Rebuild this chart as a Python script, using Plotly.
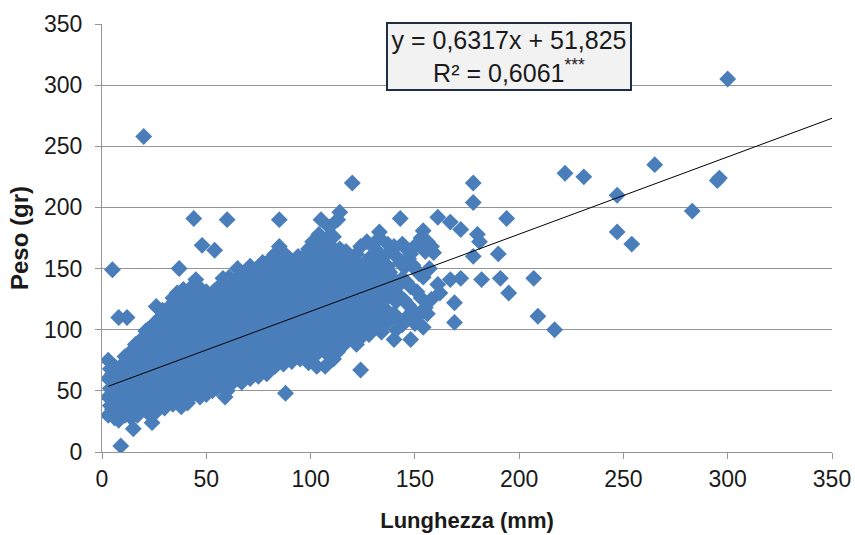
import plotly.graph_objects as go

# Lunghezza (mm) e peso (gr) dei singoli esemplari
lunghezza = [
    3, 4, 3, 4, 3, 4, 3,
    5, 6, 5, 6, 5, 5,
    6, 7, 6, 7, 6,
    8, 9, 8, 9, 8, 9, 8,
    9, 10, 9, 10, 9, 10,
    11, 12, 11, 12, 11, 12, 11,
    12, 13, 12, 13,
    14, 15, 14, 15, 14, 15, 14, 15,
    15, 16, 15, 16, 15, 16,
    17, 18, 17, 18, 17, 18, 17, 18,
    19, 20, 19, 20, 19, 20, 19, 20,
    20, 21, 21, 22, 21,
    22, 23, 22, 23, 22, 23, 22, 23, 22,
    24, 25, 24, 25, 24, 25, 24, 25, 24, 25,
    26, 27, 26, 27, 26, 27, 26, 27, 26, 26,
    28, 29, 28, 29, 28, 29, 28, 29, 28, 29,
    30, 31, 30, 31, 30, 31, 30, 31, 30, 31,
    32, 33, 32, 33, 32, 33, 32, 33, 32, 33,
    34, 35, 34, 35, 34, 35, 34, 35, 34, 35, 34,
    36, 37, 36, 37, 36, 37, 36, 37, 36, 37, 36,
    38, 39,
    39, 40, 39, 40, 39, 40, 39, 40, 39, 40, 37,
    41, 42, 41, 42, 41, 42, 41, 42, 41, 42, 41,
    43, 44, 43, 44, 43, 44, 43, 44, 43, 44, 43,
    45, 46, 45, 46, 45, 46, 45, 46, 45, 46, 45, 44,
    47, 48, 47, 48, 47, 48, 47, 48, 47, 48, 47,
    48,
    49, 50, 49, 50, 49, 50, 49, 50, 49, 50,
    50,
    51, 52, 51, 52, 51, 52, 51, 52, 51,
    53, 54, 53, 54, 53, 54, 53, 54, 53, 54,
    54,
    55, 56, 55, 56, 55, 56, 55, 56, 55, 56,
    57, 58, 57, 58, 57, 58, 57, 58, 57, 58,
    58,
    59, 60, 59, 60, 59, 60, 59, 60, 59, 60, 59,
    60,
    61, 62, 61, 62, 61, 62, 61, 62, 61, 62, 61,
    63, 64, 63, 64, 63, 64, 63, 64, 63, 64,
    65, 66, 65, 66, 65, 66, 65, 66, 65, 66, 65,
    67, 68, 67, 68, 67, 68, 67, 68, 67, 68, 67,
    69, 70, 69, 70, 69, 70, 69, 70, 69, 70, 69,
    71, 72, 71, 72, 71, 72, 71, 72, 71, 72, 71,
    73, 74, 73, 74, 73, 74, 73, 74, 73, 74,
    75, 76, 75, 76, 75, 76, 75, 76, 75, 76, 75,
    77, 78, 77, 78, 77, 78, 77, 78, 77, 78, 77,
    79, 80, 79, 80, 79, 80, 79, 80, 79, 80, 79,
    81, 82, 81, 82, 81, 82, 81, 82, 81, 82, 81,
    83, 84, 83, 84, 83, 84, 83, 84, 83, 84, 83,
    85, 86, 85, 86, 85, 86, 85, 86, 85, 86, 85, 85,
    87, 88, 87, 88, 87, 88, 87, 88, 87, 88, 87,
    88,
    89, 90, 89, 90, 89, 90, 89, 90, 89, 90,
    91, 92, 91, 92, 91, 92, 91, 92, 91, 92,
    93, 94, 93, 94, 93, 94, 93, 94, 93, 94,
    95, 96, 95, 96, 95, 96, 95, 96, 95, 96,
    97, 98, 97, 98, 97, 98, 97, 98, 97, 98,
    99, 100, 99, 100, 99, 100, 99, 100, 99, 100, 99,
    101, 102, 101, 102, 101, 102, 101, 102, 101, 102, 101,
    103, 104, 103, 104, 103, 104, 103, 104, 103, 104, 103, 104,
    105, 106, 105, 106, 105, 106, 105, 106, 105, 106, 105,
    107, 108, 107, 108, 107, 108, 107, 108, 107, 108, 107, 108,
    109, 110, 109, 110, 109, 110, 109, 110, 109, 110, 109,
    111, 112, 111, 112, 111, 112, 111, 112, 111, 112, 111,
    113, 114, 113, 114, 113, 114, 113, 114, 113, 114, 113,
    114,
    115, 116, 115, 116, 115, 116, 115, 116, 115,
    117, 118, 117, 118, 117, 118, 117, 118, 117,
    119, 120, 119, 120, 119, 120, 119, 120,
    120,
    122, 123, 122, 123, 122, 123, 122, 123, 122,
    124, 125, 124, 125, 124, 125, 124, 125, 124,
    126, 127, 126, 127, 126, 127, 126, 127,
    128, 129, 128, 129, 128, 129, 128, 129,
    130, 131, 130, 131, 130, 131, 130, 131,
    132, 133, 132, 133, 132, 133, 132, 133,
    134, 135, 134, 135, 134, 135, 134, 133,
    136, 137, 136, 137, 136, 137, 136, 137,
    138, 139, 138, 139,
    140, 141, 140, 141, 140, 141, 140,
    142, 143, 142, 143,
    143,
    144, 145, 144, 145, 144,
    146, 147, 146, 147, 146,
    148, 149, 148, 149, 148,
    150, 151, 150, 151,
    152, 153, 152, 153,
    154, 155, 154, 155, 154,
    156, 157, 156,
    158, 159, 158,
    161, 161,
    162,
    167, 167,
    169, 169,
    172, 172,
    178, 178, 178,
    180,
    181,
    182,
    190, 191,
    194,
    195,
    207,
    209,
    217,
    222,
    231,
    247, 247,
    254,
    265,
    283,
    295,
    296,
    300,
]

peso = [
    30, 38, 45, 52, 60, 68, 75,
    35, 42, 50, 57, 64, 149,
    28, 47, 55, 62, 70,
    26, 33, 40, 48, 58, 66, 110,
    5, 36, 44, 52, 60, 72,
    30, 38, 46, 55, 63, 70, 78,
    110, 42, 50, 58,
    28, 35, 45, 53, 61, 69, 76, 84,
    19, 40, 49, 57, 65, 88,
    30, 38, 47, 56, 64, 72, 80, 90,
    34, 43, 52, 60, 68, 77, 85, 94,
    258, 99, 45, 57, 73,
    32, 40, 49, 58, 66, 75, 83, 92, 100,
    24, 36, 45, 54, 63, 71, 80, 88, 97, 105,
    33, 42, 51, 60, 68, 77, 86, 95, 104, 119,
    38, 47, 56, 65, 74, 82, 91, 100, 110, 116,
    36, 44, 53, 62, 71, 80, 88, 97, 106, 114,
    41, 50, 59, 68, 77, 85, 94, 103, 112, 120,
    39, 47, 56, 65, 74, 83, 92, 101, 110, 118, 126,
    42, 52, 61, 70, 79, 88, 97, 106, 115, 124, 130,
    37, 133,
    44, 53, 62, 71, 80, 89, 98, 107, 116, 125, 150,
    40, 48, 57, 66, 75, 84, 93, 102, 111, 120, 128,
    46, 55, 64, 73, 82, 91, 100, 109, 118, 127, 135,
    48, 58, 67, 76, 85, 94, 103, 112, 121, 130, 141, 191,
    45, 53, 62, 71, 80, 89, 98, 107, 116, 125, 134,
    169,
    50, 59, 68, 77, 86, 95, 104, 113, 122, 131,
    47,
    55, 64, 73, 82, 91, 100, 109, 118, 127,
    50, 60, 69, 78, 87, 96, 105, 114, 123, 132,
    165,
    52, 62, 71, 80, 89, 98, 107, 116, 125, 135,
    56, 65, 74, 83, 92, 101, 110, 119, 128, 137,
    142,
    45, 50, 60, 69, 78, 87, 96, 105, 114, 123, 132,
    190,
    54, 63, 72, 81, 90, 99, 108, 117, 126, 135, 143,
    58, 67, 76, 85, 94, 103, 112, 121, 130, 139,
    60, 70, 79, 88, 97, 106, 115, 124, 133, 142, 150,
    57, 64, 73, 82, 91, 100, 109, 118, 127, 136, 146,
    62, 68, 77, 86, 95, 104, 113, 122, 131, 140, 148,
    60, 72, 81, 90, 99, 108, 117, 126, 135, 144, 152,
    65, 75, 84, 93, 102, 111, 120, 129, 138, 147,
    62, 70, 79, 88, 97, 106, 115, 124, 133, 142, 151,
    67, 76, 85, 94, 103, 112, 121, 130, 139, 148, 155,
    64, 73, 82, 91, 100, 109, 118, 127, 136, 145, 154,
    68, 78, 87, 96, 105, 114, 123, 132, 141, 150, 158,
    70, 80, 89, 98, 107, 116, 125, 134, 143, 152, 162,
    75, 84, 93, 102, 111, 120, 129, 138, 147, 156, 168, 190,
    72, 81, 90, 99, 108, 117, 126, 135, 144, 153, 163,
    48,
    77, 86, 95, 104, 113, 122, 131, 140, 149, 158,
    74, 83, 92, 101, 110, 119, 128, 137, 146, 155,
    79, 88, 97, 106, 115, 124, 133, 142, 151, 160,
    76, 85, 94, 103, 112, 121, 130, 139, 148, 157,
    80, 90, 99, 108, 117, 126, 135, 144, 153, 162,
    73, 84, 93, 102, 111, 120, 129, 138, 147, 156, 166,
    78, 88, 97, 106, 115, 124, 133, 142, 151, 160, 172,
    70, 82, 91, 100, 109, 118, 127, 136, 145, 154, 165, 178,
    86, 95, 104, 113, 122, 131, 140, 149, 158, 170, 190,
    70, 80, 90, 99, 108, 117, 126, 135, 144, 153, 162, 175,
    84, 93, 102, 111, 120, 129, 138, 147, 156, 168, 184,
    76, 88, 97, 106, 115, 124, 133, 142, 151, 160, 176,
    82, 92, 101, 110, 119, 128, 137, 146, 155, 166, 190,
    196,
    86, 96, 105, 114, 123, 132, 141, 150, 160,
    90, 100, 109, 118, 127, 136, 145, 154, 164,
    94, 104, 113, 122, 131, 140, 149, 158,
    220,
    88, 98, 108, 117, 126, 135, 144, 153, 162,
    67, 95, 105, 114, 123, 132, 141, 150, 168,
    100, 110, 119, 128, 137, 146, 155, 172,
    96, 106, 115, 124, 133, 142, 151, 160,
    102, 112, 121, 130, 139, 148, 157, 166,
    108, 117, 126, 135, 144, 153, 162, 175,
    98, 112, 122, 131, 140, 149, 158, 180,
    105, 115, 125, 134, 143, 152, 161, 170,
    110, 129, 147, 165,
    92, 100, 113, 123, 141, 160, 168,
    108, 127, 136, 155,
    191,
    104, 124, 142, 151, 170,
    110, 120, 139, 158, 166,
    92, 116, 135, 153, 162,
    105, 131, 150, 170,
    112, 126, 146, 175,
    102, 118, 143, 164, 181,
    113, 150, 172,
    125, 163, 168,
    137, 192,
    130,
    141, 188,
    106, 122,
    182, 142,
    220, 204, 160,
    178,
    172,
    141,
    162, 142,
    191,
    130,
    142,
    111,
    100,
    228,
    225,
    180, 210,
    170,
    235,
    197,
    222,
    224,
    305,
]

assert len(lunghezza) == len(peso), (len(lunghezza), len(peso))

# Retta di regressione lineare riportata nel riquadro
pendenza = 0.6317
intercetta = 51.825
r_quadro = 0.6061

x_tick = [0, 50, 100, 150, 200, 250, 300, 350]
y_tick = [0, 50, 100, 150, 200, 250, 300, 350]

FONT = "Arial, Liberation Sans, sans-serif"
BLU = "#4A7EBB"
GRIGIO = "#959595"

x_retta = [min(lunghezza), 350]
y_retta = [pendenza * v + intercetta for v in x_retta]

fig = go.Figure()
fig.add_trace(go.Scatter(
    x=lunghezza, y=peso, mode="markers",
    marker=dict(symbol="diamond", size=13, color=BLU, line=dict(width=0)),
    showlegend=False, hoverinfo="x+y",
))
fig.add_trace(go.Scatter(
    x=x_retta, y=y_retta, mode="lines",
    line=dict(color="black", width=1),
    showlegend=False, hoverinfo="skip",
))

etichetta = (
    "y = " + f"{pendenza:.4f}".replace(".", ",") + "x + "
    + f"{intercetta:.3f}".replace(".", ",")
    + "<br>R² = " + f"{r_quadro:.4f}".replace(".", ",")
    + "<sup>***</sup>"
)
fig.add_annotation(
    xref="paper", yref="paper", x=0.5576, y=0.9236,
    xanchor="center", yanchor="middle",
    text=etichetta, showarrow=False, align="center",
    font=dict(family=FONT, size=25, color="#1a1a1a"),
    bgcolor="#F2F2F2", bordercolor="#1F2D45", borderwidth=2, borderpad=2,
    width=238, height=61,
)

fig.update_layout(
    width=855, height=535,
    margin=dict(l=102, r=23, t=24, b=83),
    paper_bgcolor="white", plot_bgcolor="white",
    font=dict(family=FONT, size=23, color="#1a1a1a"),
    xaxis=dict(
        range=[0, 350], tickvals=x_tick, ticktext=[str(v) for v in x_tick],
        showgrid=False, zeroline=False, automargin=False,
        ticklabeloverflow="allow",
        showline=True, linecolor=GRIGIO, linewidth=1,
        ticks="outside", ticklen=6, tickcolor=GRIGIO,
        title=dict(text="<b>Lunghezza (mm)</b>", font=dict(size=22), standoff=22),
    ),
    yaxis=dict(
        range=[0, 350], tickvals=y_tick, ticktext=[str(v) for v in y_tick],
        showgrid=True, gridcolor=GRIGIO, gridwidth=1, zeroline=False,
        automargin=False, ticklabeloverflow="allow",
        showline=True, linecolor=GRIGIO, linewidth=1,
        ticks="outside", ticklen=6, tickcolor=GRIGIO, ticklabelstandoff=8,
        title=dict(text="<b>Peso (gr)</b>", font=dict(size=24), standoff=8),
    ),
)

fig.write_html("out.html")
